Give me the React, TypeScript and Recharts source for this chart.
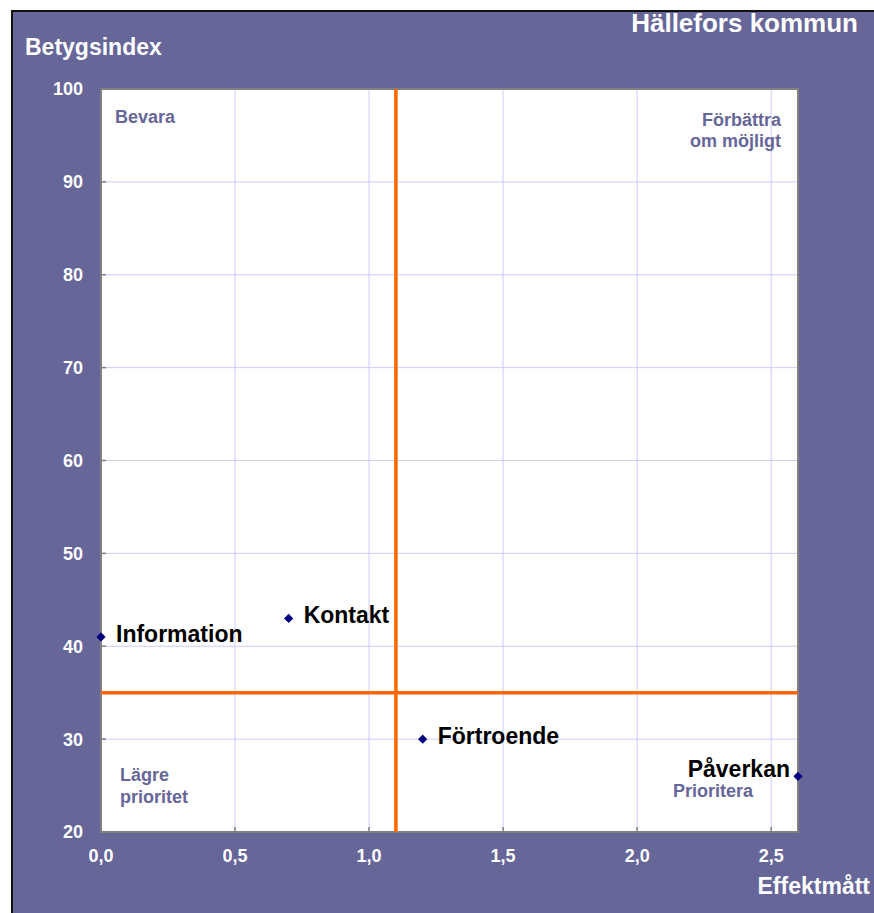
import React from 'react';
import { ScatterChart, Scatter, XAxis, YAxis, CartesianGrid, ReferenceLine, ReferenceArea } from 'recharts';

const names = ['Information', 'Kontakt', 'Förtroende', 'Påverkan'];
const effekt = [0.0, 0.7, 1.2, 2.6];
const betyg = [41, 43, 30, 26];
const xTicks = [0, 0.5, 1.0, 1.5, 2.0, 2.5];
const yTicks = [20, 30, 40, 50, 60, 70, 80, 90, 100];
const xDomain = [0, 2.6];
const yDomain = [20, 100];
const xCut = 1.1;
const yCut = 35;
const title = 'Hällefors kommun';
const yTitle = 'Betygsindex';
const xTitle = 'Effektmått';

const data = names.map((n, i) => ({ name: n, x: effekt[i], y: betyg[i] }));

const FONT = '"Liberation Sans", Arial, sans-serif';
const PURPLE = '#666699';

const fmt = (v: number) => v.toFixed(1).replace('.', ',');

const PointShape = (props: any) => {
  const { cx, cy, payload } = props;
  const s = 4.6;
  const atRight = payload.x >= 2.5;
  return (
    <g>
      <polygon
        points={`${cx},${cy - s} ${cx + s},${cy} ${cx},${cy + s} ${cx - s},${cy}`}
        fill="#000080"
      />
      <text
        x={atRight ? cx - 8 : cx + 15}
        y={atRight ? cy + 1 : cy + 5}
        textAnchor={atRight ? 'end' : 'start'}
        fontFamily={FONT}
        fontWeight="bold"
        fontSize={23}
        fill="#000"
      >
        {payload.name}
      </text>
    </g>
  );
};

const XTick = (props: any) => {
  const { x, y, payload } = props;
  return (
    <g>
      <line x1={x} x2={x} y1={y - 17} y2={y - 22} stroke="#808080" strokeWidth={1.5} />
      <text x={x} y={y} dy="0.71em" textAnchor="middle" fontFamily={FONT} fontWeight="bold" fontSize={18} fill="#fff">
        {fmt(payload.value)}
      </text>
    </g>
  );
};

const YTick = (props: any) => {
  const { x, y, payload } = props;
  return (
    <g>
      <line x1={x + 18} x2={x + 23} y1={y} y2={y} stroke="#808080" strokeWidth={1.5} />
      <text x={x} y={y} dy="0.355em" textAnchor="end" fontFamily={FONT} fontWeight="bold" fontSize={18} fill="#fff">
        {payload.value}
      </text>
    </g>
  );
};

export default function App() {
  return (
    <div style={{ position: 'absolute', left: 0, top: 0, width: 874, height: 913, background: '#fff', overflow: 'hidden' }}>
      <div
        style={{
          position: 'absolute',
          left: 11,
          top: 10,
          right: 0,
          bottom: 0,
          background: PURPLE,
          borderLeft: '2px solid #111',
          borderTop: '2px solid #111',
        }}
      />
      <div style={{ position: 'absolute', left: 0, top: 0 }}>
        <ScatterChart width={874} height={913} margin={{ top: 89, right: 76, bottom: 41, left: 41 }}>
          <CartesianGrid stroke="#ccccff" strokeWidth={1} fill="#ffffff" horizontalValues={yTicks} verticalValues={xTicks} />
          <XAxis
            type="number"
            dataKey="x"
            domain={xDomain}
            ticks={xTicks}
            height={40}
            tickSize={0}
            tickMargin={17}
            axisLine={false}
            tickLine={false}
            tick={<XTick />}
            interval={0}
          />
          <YAxis
            type="number"
            dataKey="y"
            domain={yDomain}
            ticks={yTicks}
            width={60}
            tickSize={0}
            tickMargin={18}
            axisLine={false}
            tickLine={false}
            tick={<YTick />}
            interval={0}
          />
          <ReferenceArea x1={xDomain[0]} x2={xDomain[1]} y1={yDomain[0]} y2={yDomain[1]} fill="none" fillOpacity={0} stroke="#808080" strokeWidth={2} />
          <ReferenceLine x={xCut} stroke="#ff6600" strokeWidth={3.5} />
          <ReferenceLine y={yCut} stroke="#ff6600" strokeWidth={3.5} />
          <Scatter data={data} shape={<PointShape />} isAnimationActive={false} />
        </ScatterChart>
      </div>
      <svg width={874} height={913} style={{ position: 'absolute', left: 0, top: 0, pointerEvents: 'none' }}>
        <g fontFamily={FONT} fontWeight="bold">
          <text x={858} y={32} textAnchor="end" fontSize={26} fill="#fff">{title}</text>
          <text x={25} y={55} fontSize={23} fill="#fff">{yTitle}</text>
          <text x={870} y={894} textAnchor="end" fontSize={23} fill="#fff">{xTitle}</text>
          <text x={115} y={123} fontSize={18} fill={PURPLE}>Bevara</text>
          <text x={781} y={126} textAnchor="end" fontSize={18} fill={PURPLE}>Förbättra</text>
          <text x={781} y={147} textAnchor="end" fontSize={18} fill={PURPLE}>om möjligt</text>
          <text x={120} y={781} fontSize={18} fill={PURPLE}>Lägre</text>
          <text x={120} y={803} fontSize={18} fill={PURPLE}>prioritet</text>
          <text x={673} y={797} fontSize={18} fill={PURPLE}>Prioritera</text>
        </g>
      </svg>
    </div>
  );
}
